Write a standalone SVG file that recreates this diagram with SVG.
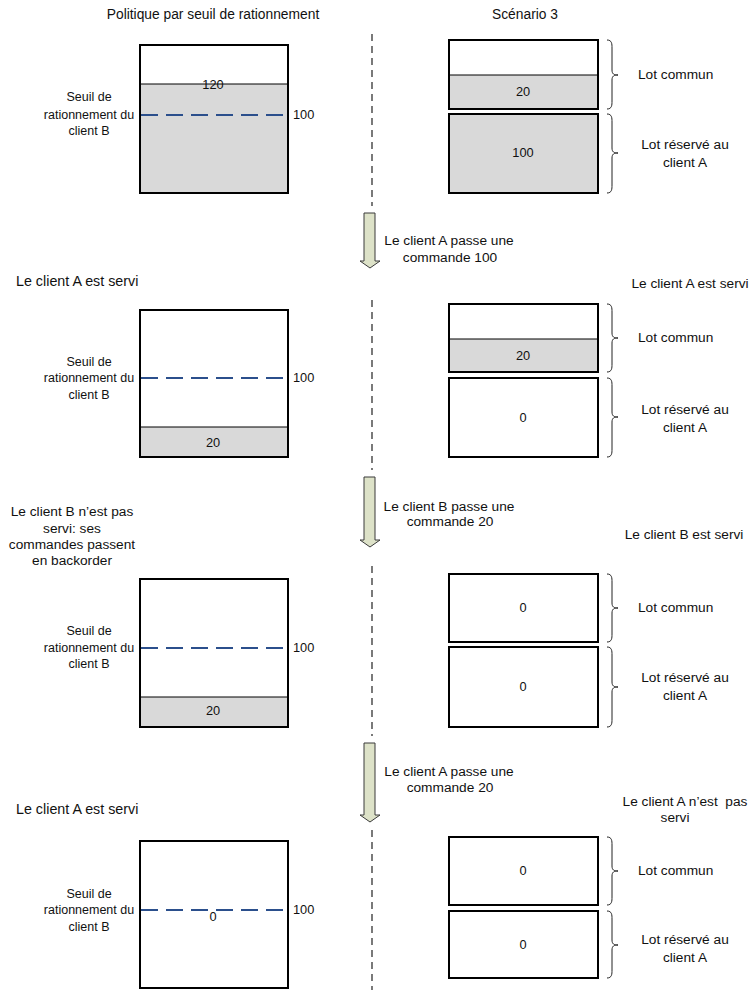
<svg xmlns="http://www.w3.org/2000/svg" width="750" height="994" viewBox="0 0 750 994">
<style>
text{font-family:"Liberation Sans",Arial,sans-serif;font-size:13.7px;fill:#111}
.m{text-anchor:middle}
.t{font-size:13.8px}
.l{font-size:14.3px}
.s{font-size:12.5px}
.n{font-size:12.8px}
.box{fill:#fff;stroke:#000;stroke-width:2}
.gray{fill:#d9d9d9}
.div{stroke:#000;stroke-width:1}
.thr{stroke:#2b4f8c;stroke-width:1.8;stroke-dasharray:17,8;fill:none}
.brace{fill:none;stroke:#222;stroke-width:1}
.vdash{stroke:#222;stroke-width:1.2;stroke-dasharray:7,5;fill:none}
.arrow{fill:#dde2c8;stroke:#3a3a3a;stroke-width:1}
</style>
<rect width="750" height="994" fill="#fff"/>
<text class="m t" x="213" y="19">Politique par seuil de rationnement</text>
<text class="m t" x="525" y="19">Scénario 3</text>
<g id="separator">
<path class="vdash" d="M372,34V206M372,300V470M372,566V736M372,830V990"/>
</g>
<g id="connectors">
<path class="arrow" d="M364,213H375V261H380L370,268L360,261H364Z"/>
<path class="arrow" d="M364,477H375V540H380L370,547L360,540H364Z"/>
<path class="arrow" d="M364,743H375V815H380L370,822L360,815H364Z"/>
<text class="m" x="449" y="245">Le client A passe une</text>
<text class="m" x="450" y="262">commande 100</text>
<text class="m" x="449" y="511">Le client B passe une</text>
<text class="m" x="450" y="526">commande 20</text>
<text class="m" x="449" y="776">Le client A passe une</text>
<text class="m" x="450" y="792">commande 20</text>
</g>
<g id="left1">
<rect class="box" x="140" y="45" width="148" height="148"/>
<rect class="gray" x="141" y="84" width="146" height="108"/>
<line class="div" x1="140" y1="84" x2="288" y2="84"/>
<line class="thr" x1="141" y1="115" x2="287" y2="115"/>
<text class="m n" x="213" y="89">120</text>
<text class="n" x="293" y="119">100</text>
<text class="m s" x="89" y="101">Seuil de</text>
<text class="m s" x="89" y="119">rationnement du</text>
<text class="m s" x="89" y="135">client B</text>
</g>
<g id="right1">
<rect class="box" x="449" y="40" width="149" height="69"/>
<rect class="gray" x="450" y="75" width="147" height="33"/>
<line class="div" x1="449" y1="75" x2="598" y2="75"/>
<text class="m n" x="523" y="96">20</text>
<rect class="box" x="449" y="114" width="149" height="79" style="fill:#d9d9d9"/>
<text class="m n" x="523" y="157">100</text>
<path class="brace" d="M607,40C612,40 612,44 612,48V70C612,74 614,75 618,75C614,75 612,76 612,80V101C612,105 612,109 607,109"/>
<path class="brace" d="M607,114C612,114 612,118 612,122V148C612,152 614,153 618,153C614,153 612,154 612,158V185C612,189 612,193 607,193"/>
<text x="638" y="79">Lot commun</text>
<text class="m" x="685" y="149">Lot réservé au</text>
<text class="m" x="685" y="167">client A</text>
</g>
<g id="left2">
<text class="l" x="16" y="286">Le client A est servi</text>
<rect class="box" x="140" y="310" width="148" height="147"/>
<rect class="gray" x="141" y="427" width="146" height="29"/>
<line class="div" x1="140" y1="427" x2="288" y2="427"/>
<line class="thr" x1="141" y1="378" x2="287" y2="378"/>
<text class="m n" x="213" y="447">20</text>
<text class="n" x="293" y="382">100</text>
<text class="m s" x="89" y="366">Seuil de</text>
<text class="m s" x="89" y="382">rationnement du</text>
<text class="m s" x="89" y="399">client B</text>
</g>
<g id="right2">
<text class="m" x="690" y="288">Le client A est servi</text>
<rect class="box" x="449" y="304" width="149" height="68"/>
<rect class="gray" x="450" y="339" width="147" height="32"/>
<line class="div" x1="449" y1="339" x2="598" y2="339"/>
<text class="m n" x="523" y="360">20</text>
<rect class="box" x="449" y="378" width="149" height="79"/>
<text class="m n" x="523" y="422">0</text>
<path class="brace" d="M607,304C612,304 612,308 612,312V333C612,337 614,338 618,338C614,338 612,339 612,343V364C612,368 612,372 607,372"/>
<path class="brace" d="M607,378C612,378 612,382 612,386V412C612,416 614,417 618,417C614,417 612,418 612,422V449C612,453 612,457 607,457"/>
<text x="638" y="342">Lot commun</text>
<text class="m" x="685" y="414">Lot réservé au</text>
<text class="m" x="685" y="432">client A</text>
</g>
<g id="left3">
<text class="m" x="72" y="516">Le client B n’est pas</text>
<text class="m" x="72" y="533">servi: ses</text>
<text class="m" x="72" y="549">commandes passent</text>
<text class="m" x="72" y="565">en backorder</text>
<rect class="box" x="140" y="579" width="148" height="148"/>
<rect class="gray" x="141" y="697" width="146" height="29"/>
<line class="div" x1="140" y1="697" x2="288" y2="697"/>
<line class="thr" x1="141" y1="648" x2="287" y2="648"/>
<text class="m n" x="213" y="715">20</text>
<text class="n" x="293" y="652">100</text>
<text class="m s" x="89" y="635">Seuil de</text>
<text class="m s" x="89" y="652">rationnement du</text>
<text class="m s" x="89" y="668">client B</text>
</g>
<g id="right3">
<text class="m" x="684" y="539">Le client B est servi</text>
<rect class="box" x="449" y="574" width="149" height="68"/>
<text class="m n" x="523" y="612">0</text>
<rect class="box" x="449" y="647" width="149" height="80"/>
<text class="m n" x="523" y="691">0</text>
<path class="brace" d="M607,574C612,574 612,578 612,582V603C612,607 614,608 618,608C614,608 612,609 612,613V634C612,638 612,642 607,642"/>
<path class="brace" d="M607,647C612,647 612,651 612,655V682C612,686 614,687 618,687C614,687 612,688 612,692V719C612,723 612,727 607,727"/>
<text x="638" y="612">Lot commun</text>
<text class="m" x="685" y="682">Lot réservé au</text>
<text class="m" x="685" y="700">client A</text>
</g>
<g id="left4">
<text class="l" x="16" y="814">Le client A est servi</text>
<rect class="box" x="140" y="841" width="148" height="147"/>
<line class="thr" x1="141" y1="910" x2="287" y2="910"/>
<text class="m n" x="213" y="921">0</text>
<text class="n" x="293" y="914">100</text>
<text class="m s" x="89" y="898">Seuil de</text>
<text class="m s" x="89" y="914">rationnement du</text>
<text class="m s" x="89" y="931">client B</text>
</g>
<g id="right4">
<text class="m" x="685" y="806" xml:space="preserve">Le client A n’est  pas</text>
<text class="m" x="675" y="822">servi</text>
<rect class="box" x="449" y="837" width="149" height="68"/>
<text class="m n" x="523" y="875">0</text>
<rect class="box" x="449" y="911" width="149" height="67"/>
<text class="m n" x="523" y="949">0</text>
<path class="brace" d="M607,837C612,837 612,841 612,845V866C612,870 614,871 618,871C614,871 612,872 612,876V897C612,901 612,905 607,905"/>
<path class="brace" d="M607,911C612,911 612,915 612,919V940C612,944 614,945 618,945C614,945 612,946 612,950V970C612,974 612,978 607,978"/>
<text x="638" y="875">Lot commun</text>
<text class="m" x="685" y="944">Lot réservé au</text>
<text class="m" x="685" y="962">client A</text>
</g>
</svg>
